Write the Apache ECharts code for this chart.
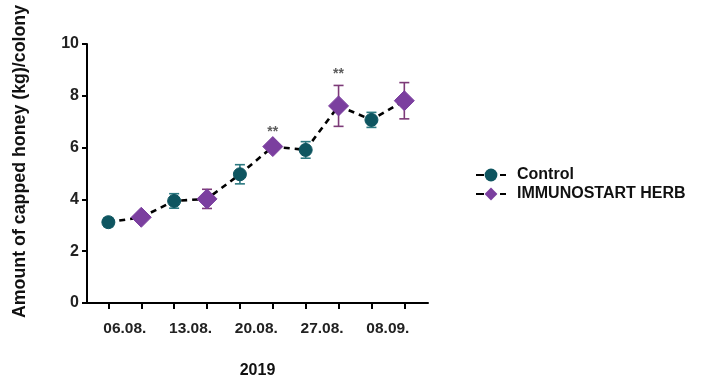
<!DOCTYPE html>
<html><head><meta charset="utf-8">
<script src="https://cdn.jsdelivr.net/npm/echarts@6/dist/echarts.min.js"></script>
<style>html,body{margin:0;padding:0;background:#fff}#c{width:716px;height:378px}</style>
</head><body><div id="c"></div>
<script>
const categories = ['06.08.', '13.08.', '20.08.', '27.08.', '08.09.'];
const controlMean = [3.12, 3.94, 4.97, 5.91, 7.07];
const controlErr  = [0.17, 0.28, 0.37, 0.32, 0.29];
const immunoMean  = [3.31, 4.02, 6.04, 7.61, 7.81];
const immunoErr   = [0.10, 0.37, 0.14, 0.79, 0.70];
const immunoSig   = ['', '', '**', '**', ''];
const yTicks = [0, 2, 4, 6, 8, 10];

const ctrlPos = categories.map((_, i) => 2 * i);
const immPos = categories.map((_, i) => 2 * i + 1);
const withGaps = (pos, vals) => {
  const out = [];
  pos.forEach((p, i) => { out.push([p, vals[i]]); if (i < pos.length - 1) out.push([p + 0.5, '-']); });
  return out;
};
const path = [];
categories.forEach((_, i) => { path.push([ctrlPos[i], controlMean[i]]); path.push([immPos[i], immunoMean[i]]); });

const errData = [];
categories.forEach((_, i) => {
  errData.push([ctrlPos[i], controlMean[i] - controlErr[i], controlMean[i] + controlErr[i], 0]);
  errData.push([immPos[i], immunoMean[i] - immunoErr[i], immunoMean[i] + immunoErr[i], 1]);
});
const errColors = ['#2b7880', '#7d3a78'];
const sigData = [];
categories.forEach((_, i) => { if (immunoSig[i]) sigData.push({ value: [immPos[i], immunoMean[i] + immunoErr[i]], sig: immunoSig[i] }); });

const font = 'Liberation Sans, Arial, sans-serif';
const chart = echarts.init(document.getElementById('c'));
chart.setOption({
  animation: false,
  grid: { left: 87, right: 288, top: 44, bottom: 75, outerBoundsMode: 'none', containLabel: false },
  legend: {
    orient: 'vertical', left: 470, top: 162, itemGap: 3, itemWidth: 30, itemHeight: 16,
    textStyle: { fontFamily: font, fontWeight: 'bold', fontSize: 16, color: '#111', padding: [0, 0, 0, 6] },
    data: [
      { name: 'Control', lineStyle: { color: '#000', type: 'dashed', width: 2, opacity: 1 } },
      { name: 'IMMUNOSTART HERB', lineStyle: { color: '#000', type: 'dashed', width: 2, opacity: 1 } }
    ]
  },
  xAxis: {
    type: 'value', min: -0.65, max: 9.72,
    name: '2019', nameLocation: 'middle', nameGap: 60,
    nameTextStyle: { fontFamily: font, fontWeight: 'bold', fontSize: 16, color: '#111' },
    splitLine: { show: false },
    axisLine: { show: true, onZero: false, lineStyle: { color: '#000', width: 2 } },
    axisTick: { show: true, customValues: ctrlPos.concat(immPos), length: 6, lineStyle: { color: '#000', width: 2 } },
    axisLabel: {
      customValues: ctrlPos.map(p => p + 0.5), margin: 18,
      fontFamily: font, fontWeight: 'bold', fontSize: 15.5, color: '#222',
      formatter: v => categories[Math.round((v - 0.5) / 2)]
    }
  },
  yAxis: {
    type: 'value', min: 0, max: 10, interval: 2,
    name: 'Amount of capped honey (kg)/colony', nameLocation: 'middle', nameGap: 58,
    nameTextStyle: { fontFamily: font, fontWeight: 'bold', fontSize: 17.8, color: '#111', padding: [0, 0, 0, 24] },
    splitLine: { show: false },
    axisLine: { show: true, onZero: false, lineStyle: { color: '#000', width: 2 } },
    axisTick: { show: true, length: 5, lineStyle: { color: '#000', width: 2 } },
    axisLabel: { margin: 8, fontFamily: font, fontWeight: 'bold', fontSize: 16, color: '#222',
      formatter: v => yTicks.includes(v) ? String(v) : '' }
  },
  series: [
    { type: 'line', name: 'path', data: path, symbol: 'none', z: 1, silent: true,
      lineStyle: { color: '#000', width: 2.6, type: [6, 5] } },
    { type: 'custom', name: 'err', z: 2, data: errData, silent: true,
      renderItem: (params, api) => {
        const x = api.value(0);
        const lo = api.coord([x, api.value(1)]);
        const hi = api.coord([x, api.value(2)]);
        const c = errColors[api.value(3)];
        const w = 5;
        const st = { stroke: c, lineWidth: 1.6 };
        return { type: 'group', children: [
          { type: 'line', shape: { x1: lo[0], y1: lo[1], x2: hi[0], y2: hi[1] }, style: st },
          { type: 'line', shape: { x1: lo[0] - w, y1: lo[1], x2: lo[0] + w, y2: lo[1] }, style: st },
          { type: 'line', shape: { x1: hi[0] - w, y1: hi[1], x2: hi[0] + w, y2: hi[1] }, style: st }
        ]};
      } },
    { type: 'line', name: 'Control', data: withGaps(ctrlPos, controlMean), z: 3,
      symbol: 'circle', symbolSize: 13, showAllSymbol: true,
      itemStyle: { color: '#0e5560', borderColor: '#0e5560' },
      lineStyle: { color: '#000', type: 'dashed', width: 2 } },
    { type: 'line', name: 'IMMUNOSTART HERB', data: withGaps(immPos, immunoMean), z: 3,
      symbol: 'diamond', symbolSize: [20, 20], showAllSymbol: true,
      itemStyle: { color: '#7b3f9f', borderColor: '#7b3f9f' },
      lineStyle: { color: '#000', type: 'dashed', width: 2 } },
    { type: 'scatter', name: 'sig', data: sigData, symbol: 'circle', symbolSize: 0, z: 4, silent: true,
      itemStyle: { color: 'rgba(0,0,0,0)' },
      label: { show: true, position: 'top', distance: 4, formatter: p => p.data.sig,
        fontFamily: font, fontWeight: 'bold', fontSize: 14, color: '#333' } }
  ]
});
</script></body></html>
